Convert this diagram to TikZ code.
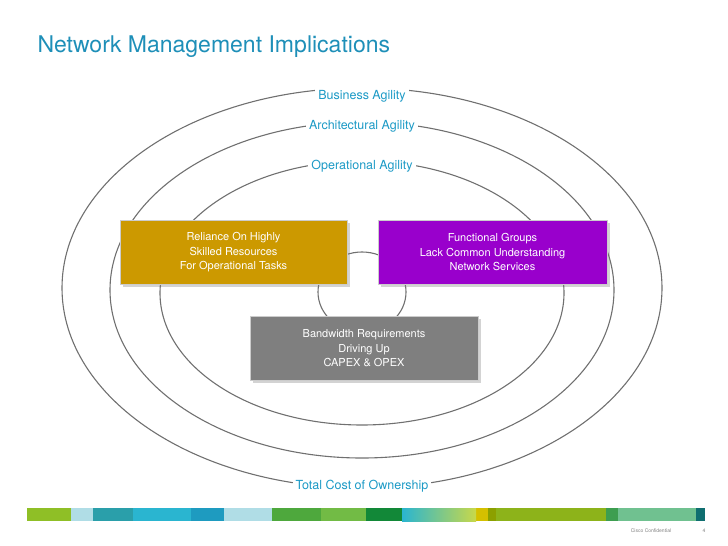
\documentclass[tikz,border=0pt]{standalone}
\usepackage{fontspec}
\setmainfont{TeX Gyre Heros}
\usetikzlibrary{shadows}
\definecolor{ciscoblue}{HTML}{1C9AC6}
\definecolor{titleblue}{HTML}{1E8FB8}
\definecolor{goldbox}{HTML}{CC9900}
\definecolor{purplebox}{HTML}{9900CC}
\definecolor{greybox}{HTML}{7F7F7F}
\definecolor{ringgrey}{HTML}{707070}
\definecolor{stripcyan}{HTML}{2AB5D0}
\definecolor{striplime}{HTML}{C8D84A}

\begin{document}
\begin{tikzpicture}
    [
    x=1pt, y=-1pt,
    ring/.style={draw=ringgrey, line width=1.1pt},
    agility/.style={fill=white, text=ciscoblue, font=\fontsize{12.5}{14}\selectfont, inner sep=3pt},
    issue/.style={minimum height=64pt, text=white, align=center, draw=white!80!black,
        font=\fontsize{11}{14.5}\selectfont, drop shadow={opacity=0.35}},
    ]
    \useasboundingbox (0,0) rectangle (728,546);

    % title
    \node[anchor=west, text=titleblue, font=\fontsize{23}{26}\selectfont] (title) at (34,47) {Network Management Implications};

    % rings
    \draw[ring] (362,288) ellipse [x radius=300, y radius=200];
    \draw[ring] (362,290) ellipse [x radius=252, y radius=168];
    \draw[ring] (362,293) ellipse [x radius=202, y radius=132];
    \draw[ring] (362,292) ellipse [x radius=44, y radius=40];

    \node[agility] (business) at (362,96) {Business Agility};
    \node[agility] (architectural) at (362,126) {Architectural Agility};
    \node[agility] (operational) at (362,166) {Operational Agility};
    \node[agility] (tco) at (362,486) {Total Cost of Ownership};

    % issue boxes
    \node[issue, fill=goldbox, minimum width=227pt] (reliance) at (233.5,252.5)
        {Reliance On Highly\\Skilled Resources\\For Operational Tasks};
    \node[issue, fill=purplebox, minimum width=229pt] (functional) at (492.5,252)
        {Functional Groups\\Lack Common Understanding\\Network Services};
    \node[issue, fill=greybox, minimum width=228pt] (bandwidth) at (364,348.5)
        {Bandwidth Requirements\\Driving Up\\CAPEX \& OPEX};

    % footer strip
    \foreach \xa/\xb/\col in {27/71/8FBF26, 71/93/B0DDE6, 93/133/2A9FAA, 133/191/2AB5D0,
        191/224/1E9BC0, 224/272/B0DDE6, 272/321/4EA83D, 321/366/72BB45, 366/402/128838,
        476/488/D4C000, 488/496/8CA000, 496/606/8DB31A, 606/618/3D9E50, 618/696/70C190,
        696/705/0F6E70}
    {
        \definecolor{stripcol}{HTML}{\col}
        \fill[stripcol] (\xa,508) rectangle (\xb,521);
    }
    \shade[left color=stripcyan, right color=striplime] (402,508) rectangle (476,521);

    \node[text=gray, font=\fontsize{5}{6}\selectfont] (confidential) at (651,531) {Cisco Confidential};
    \node[text=gray, font=\fontsize{5}{6}\selectfont] (page) at (704,531) {4};
\end{tikzpicture}
\end{document}
